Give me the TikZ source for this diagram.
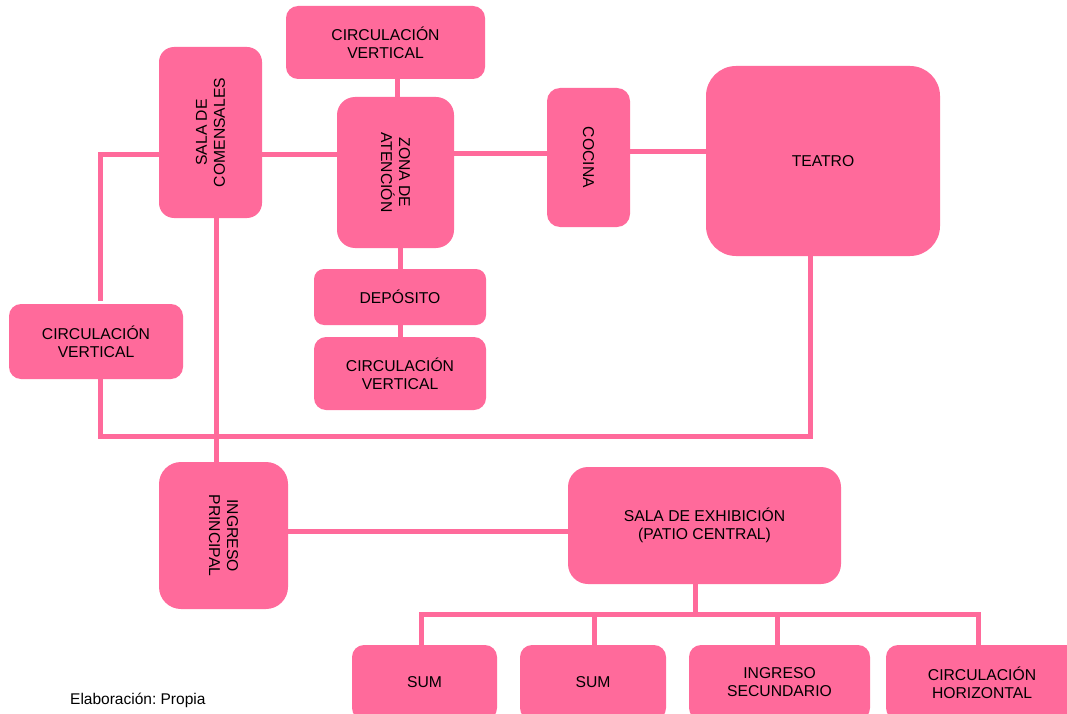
\documentclass[tikz,border=0pt]{standalone}
\usepackage{fontspec}
\setmainfont{Liberation Sans}
\definecolor{pinkbox}{HTML}{FF6A9B}
\begin{document}
\begin{tikzpicture}[x=1pt,y=-1pt,
  box/.style={fill=pinkbox, draw=none, inner sep=0pt, align=center, text=black,
    font=\fontsize{15.7}{18}\selectfont},
  link/.style={draw=pinkbox, line width=5pt, line cap=rect}]
\clip (0,0) rectangle (1067,714);
% boxes
\node[box, minimum width=199pt, minimum height=73pt, rounded corners=12pt] (cvtop) at (385.5,42.5) {CIRCULACIÓN\\VERTICAL};
\node[box, minimum width=103pt, minimum height=171pt, rounded corners=15pt] (sala) at (210.5,132.5) {};
\node[box, rotate=90] (salat) at (sala.center) {SALA DE\\COMENSALES};
\node[box, minimum width=117pt, minimum height=151pt, rounded corners=18pt] (zona) at (395.5,172.5) {};
\node[box, rotate=-90] (zonat) at (zona.center) {ZONA DE\\ATENCIÓN};
\node[box, minimum width=83pt, minimum height=139pt, rounded corners=13pt] (cocina) at (588.5,157.5) {};
\node[box, rotate=-90] (cocinat) at (cocina.center) {COCINA};
\node[box, minimum width=234pt, minimum height=190pt, rounded corners=30pt] (teatro) at (823,161) {TEATRO};
\node[box, minimum width=172pt, minimum height=56pt, rounded corners=10pt] (deposito) at (400,297) {DEPÓSITO};
\node[box, minimum width=172pt, minimum height=73pt, rounded corners=12pt] (cvlow) at (400,373.5) {CIRCULACIÓN\\VERTICAL};
\node[box, minimum width=174pt, minimum height=75pt, rounded corners=12pt] (cvleft) at (96,341.5) {CIRCULACIÓN\\VERTICAL};
\node[box, minimum width=129pt, minimum height=147pt, rounded corners=22pt] (ingp) at (223.5,535.5) {};
\node[box, rotate=-90] (ingpt) at (ingp.center) {INGRESO\\PRINCIPAL};
\node[box, minimum width=273pt, minimum height=117pt, rounded corners=20pt] (salaex) at (704.5,525.5) {SALA DE EXHIBICIÓN\\(PATIO CENTRAL)};
\node[box, minimum width=145pt, minimum height=75pt, rounded corners=12pt] (sum1) at (424.5,682.5) {SUM};
\node[box, minimum width=146pt, minimum height=75pt, rounded corners=12pt] (sum2) at (593,682.5) {SUM};
\node[box, minimum width=181pt, minimum height=75pt, rounded corners=12pt] (ingsec) at (779.5,682.5) {INGRESO\\SECUNDARIO};
\node[box, minimum width=192pt, minimum height=75pt, rounded corners=12pt] (circh) at (982,682.5) {CIRCULACIÓN\\HORIZONTAL};
\node[font=\fontsize{15.5}{18}\selectfont\frenchspacing, anchor=west, inner sep=0pt] (src) at (70,700) {Elaboración: Propia};
% connector coordinates
\coordinate (c1) at (100,155);
\coordinate (c2) at (100,298);
\coordinate (c3) at (100,436);
\coordinate (c4) at (810,436);
\coordinate (c5) at (216,436);
\coordinate (c6) at (300,155);
\coordinate (c7) at (500,154);
\coordinate (c8) at (668,152);
\coordinate (c9) at (397,88);
\coordinate (c10) at (400,330);
\coordinate (c11) at (420,531);
\coordinate (cb) at (695,614);
\coordinate (b1) at (421,614);
\coordinate (b2) at (594,614);
\coordinate (b3) at (777,614);
\coordinate (b4) at (978,614);
% connectors
\draw[link] (sala.west |- c1) -- (c1) -- (c2);
\draw[link] (cvleft.south -| c3) -- (c3) -- (c4) -- (teatro.south -| c4);
\draw[link] (sala.south -| c5) -- (ingp.north -| c5);
\draw[link] (sala.east |- c6) -- (zona.west |- c6);
\draw[link] (zona.east |- c7) -- (cocina.west |- c7);
\draw[link] (cocina.east |- c8) -- (teatro.west |- c8);
\draw[link] (cvtop.south -| c9) -- (zona.north -| c9);
\draw[link] (zona.south -| c10) -- (deposito.north -| c10);
\draw[link] (deposito.south -| c10) -- (cvlow.north -| c10);
\draw[link] (ingp.east |- c11) -- (salaex.west |- c11);
\draw[link] (salaex.south -| cb) -- (cb);
\draw[link] (sum1.north -| b1) -- (b1) -- (b4) -- (circh.north -| b4);
\draw[link] (b2) -- (sum2.north -| b2);
\draw[link] (b3) -- (ingsec.north -| b3);
\end{tikzpicture}
\end{document}
